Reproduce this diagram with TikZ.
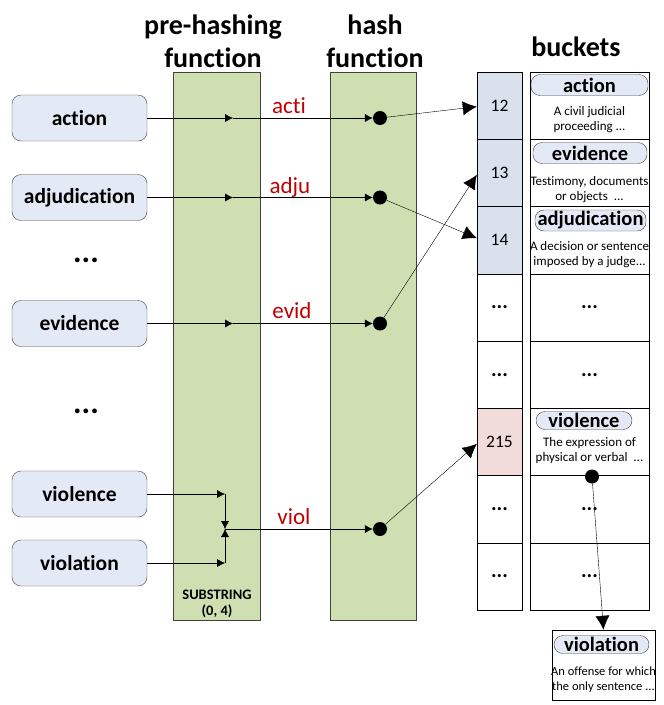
\documentclass[tikz,border=0pt]{standalone}
\usepackage{fontspec}
\setmainfont[Ligatures=NoCommon]{Carlito}
\usetikzlibrary{arrows.meta,calc}

\definecolor{inputfill}{HTML}{E4EAF5}
\definecolor{stagefill}{HTML}{D0DFB1}
\definecolor{keyfill}{HTML}{D8E1EC}
\definecolor{hitfill}{HTML}{F2DCDB}
\definecolor{labelred}{HTML}{C00000}
\definecolor{edgegray}{HTML}{404040}

\newcommand\pxsize[1]{\fontsize{#1}{#1}\selectfont}
\newcommand\elided{{\pxsize{21}\bfseries ...}}

\tikzset{
  title/.style={font=\fontsize{28}{33}\selectfont\bfseries, align=center, inner sep=0},
  word/.style={draw=edgegray, fill=inputfill, rounded corners=9pt, minimum width=135pt,
    minimum height=46pt, inner sep=0, font=\pxsize{21.5}\bfseries},
  stage/.style={draw=edgegray, fill=stagefill, inner sep=0},
  slot/.style={draw=black, minimum width=45pt, minimum height=67.25pt, inner sep=0, font=\pxsize{17.5}},
  cell/.style={draw=black, minimum width=119pt, minimum height=67.25pt, inner sep=0, font=\pxsize{21}\bfseries},
  pill/.style={draw=edgegray, fill=inputfill, rounded corners=9pt, inner sep=0,
    minimum height=21pt, font=\pxsize{20.5}\bfseries},
  desc/.style={font=\fontsize{13}{15}\selectfont, align=center, inner sep=0},
  dot/.style={circle, fill=black, minimum size=14pt, inner sep=0},
  hashlbl/.style={text=labelred, font=\pxsize{23}, inner sep=0},
  gap/.style={font=\pxsize{32}\bfseries, inner sep=0},
  feed/.style={-{Latex[length=8pt,width=8pt]}},
  jump/.style={-{Latex[length=14pt,width=14pt]}},
}

\begin{document}
\begin{tikzpicture}[x=1pt,y=-1pt]
\useasboundingbox (0,0) rectangle (664,705);

% column titles
\node[title] (t1) at (213,41) {pre-hashing\\function};
\node[title] (t2) at (375,41) {hash\\function};
\node[title] (t3) at (576,47) {buckets};

% processing stages
\node[stage, minimum width=87pt, minimum height=548pt] (pre) at (216.5,346) {};
\node[stage, minimum width=86pt, minimum height=548pt] (hash) at (373,346) {};
\node[font=\pxsize{14.5}\bfseries, align=center, inner sep=0] (sub) at (217,604)
  {SUBSTRING\\[2pt](0, 4)};

% input words
\node[word] (w1) at (79.5,118) {action};
\node[word] (w2) at (79.5,197.5) {adjudication};
\node[word] (w3) at (79.5,323.5) {evidence};
\node[word] (w4) at (79.5,494) {violence};
\node[word] (w5) at (79.5,563) {violation};
\node[gap] (g1) at (86,260) {...};
\node[gap] (g2) at (86,411) {...};

% bucket table
\foreach \k/\f/\t in {1/keyfill/12, 2/keyfill/13, 3/keyfill/14, 4/white/\elided,
                      5/white/\elided, 6/hitfill/215, 7/white/\elided, 8/white/\elided}{
  \node[slot, fill=\f] (s\k) at (499.5,{72+67.25*(\k-0.5)}) {\t};
}
\foreach \k/\t in {1/{}, 2/{}, 3/{}, 4/\elided, 5/\elided, 6/{}, 7/\elided, 8/\elided}{
  \node[cell] (c\k) at (589.5,{72+67.25*(\k-0.5)}) {\t};
}

% bucket entries
\node[pill, minimum width=117pt] (p1) at (589.5,85) {action};
\node[desc] (e1) at (589.5,119.5) {A civil judicial\\proceeding ...};
\node[pill, minimum width=114pt] (p2) at (590,153) {evidence};
\node[desc] (e2) at (589.5,189.5) {Testimony, documents\\or objects \ ...};
\node[pill, minimum width=111pt] (p3) at (590.5,220.5) {adjudication};
\node[desc] (e3) at (589.5,254.5) {A decision or sentence\\imposed by a judge...};
\node[pill, minimum width=96pt, minimum height=18pt] (p6) at (584,420.5) {violence};
\node[desc] (e6) at (589.5,450.5) {The expression of\\physical or verbal \ ...};

% chained entry
\node[draw=black, minimum width=103pt, minimum height=70pt, inner sep=0] (vbox) at (603.5,665) {};
\node[pill, minimum width=95pt, minimum height=18pt] (p9) at (601.5,644.5) {violation};
\node[desc, font=\fontsize{12.5}{15}\selectfont] (e9) at (603.5,679.5) {An offense for which\\the only sentence ...};

% hash points
\node[dot] (d1) at (380,118) {};
\node[dot] (d2) at (380,197.5) {};
\node[dot] (d3) at (380,323.5) {};
\node[dot] (d4) at (380,529) {};
\node[dot] (vdot) at (592,476.5) {};

% substring points
\coordinate (a1) at (233,118);
\coordinate (a2) at (233,197.5);
\coordinate (a3) at (233,323.5);
\coordinate (q1) at (225,494);
\coordinate (q2) at (225,563);
\coordinate (j) at (225,529);

% word -> prefix -> hash
\draw[feed] (w1.east) -- (a1);
\draw[feed] (a1) -- (d1);
\draw[feed] (w2.east) -- (a2);
\draw[feed] (a2) -- (d2);
\draw[feed] (w3.east) -- (a3);
\draw[feed] (a3) -- (d3);
\draw[feed] (w4.east) -- (q1);
\draw[feed] (w5.east) -- (q2);
\draw[feed] (q1) -- (j);
\draw[feed] (q2) -- (j);
\draw[feed] (j) -- (d4);

\node[hashlbl] (h1) at (289,106) {acti};
\node[hashlbl] (h2) at (290,187) {adju};
\node[hashlbl] (h3) at (292,311) {evid};
\node[hashlbl] (h4) at (294,517) {viol};

% hash -> bucket
\draw[jump] (d1) -- ($(s1.west)+(0,1)$);
\draw[jump] (d2) -- ($(s3.west)+(0,-2)$);
\draw[jump] (d3) -- ($(s2.west)+(0,2)$);
\draw[jump] (d4) -- ($(s6.west)+(0,2)$);
\draw[jump] (vdot) -- (vbox.north);
\end{tikzpicture}
\end{document}
